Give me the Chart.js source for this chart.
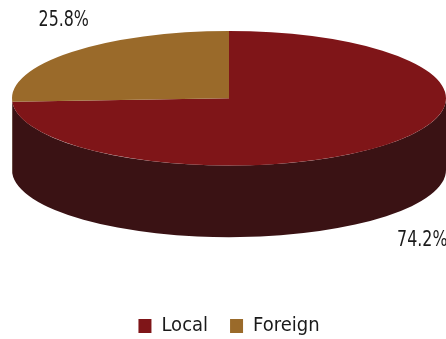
<!DOCTYPE html>
<html>
<head>
<meta charset="utf-8">
<script src="https://cdn.jsdelivr.net/npm/chart.js@4.4.1/dist/chart.umd.min.js"></script>
<style>
  html, body { margin: 0; padding: 0; background: #ffffff; }
  #wrap { width: 446px; height: 339px; }
</style>
</head>
<body>
<div id="wrap"><canvas id="shareChart"></canvas></div>
<script>
// Share of local vs foreign, drawn as a tilted 3D pie
const categories = ['Local', 'Foreign'];
const shareValues = [74.2, 25.8];
const valueLabels = ['74.2%', '25.8%'];

const topColors = ['#7f1518', '#9a6a2a'];
const sideColors = ['#3a1214', '#4c3416'];
const FONT = "'DejaVu Sans', sans-serif";

// ellipse geometry derived from the chart area
function pieGeometry(chart) {
    const area = chart.chartArea;
    const rx = (area.right - area.left) / 2;
    const ry = rx * 0.31;
    return {
        cx: (area.left + area.right) / 2,
        cy: area.top + ry,
        rx: rx,
        ry: ry,
        depth: rx * 0.33
    };
}

const pie3d = {
    id: 'pie3d',
    beforeDatasetsDraw(chart) {
        const ctx = chart.ctx;
        const meta = chart.getDatasetMeta(0);
        const g = pieGeometry(chart);

        // side walls: only the front half (0..PI) is visible
        meta.data.forEach((arc, i) => {
            let a0 = Math.max(arc.startAngle, 0);
            let a1 = Math.min(arc.endAngle, Math.PI);
            if (a1 <= a0) return;
            ctx.save();
            ctx.fillStyle = sideColors[i];
            ctx.beginPath();
            ctx.ellipse(g.cx, g.cy, g.rx, g.ry, 0, a0, a1);
            ctx.ellipse(g.cx, g.cy + g.depth, g.rx, g.ry, 0, a1, a0, true);
            ctx.closePath();
            ctx.fill();
            ctx.restore();
        });

        // squash the top face into the ellipse
        const arc = meta.data[0];
        const r = arc.outerRadius;
        ctx.save();
        ctx.translate(g.cx, g.cy);
        ctx.scale(g.rx / r, g.ry / r);
        ctx.translate(-arc.x, -arc.y);
    },
    afterDatasetsDraw(chart) {
        chart.ctx.restore();
    },
    afterDraw(chart) {
        const ctx = chart.ctx;
        const meta = chart.getDatasetMeta(0);
        const g = pieGeometry(chart);
        meta.data.forEach((arc, i) => {
            const mid = (arc.startAngle + arc.endAngle) / 2;
            const s = Math.sin(mid);
            const x = g.cx + g.rx * 1.14 * Math.cos(mid) + 14;
            const y = g.cy + g.ry * 1.6 * s + (s > 0 ? g.depth : 0) - 4;
            // narrow percentage labels
            ctx.save();
            ctx.translate(x, y);
            ctx.scale(0.84, 1);
            ctx.font = 'condensed 21px ' + FONT;
            ctx.fillStyle = '#1a1a1a';
            ctx.textAlign = 'center';
            ctx.textBaseline = 'middle';
            ctx.fillText(valueLabels[i], 0, 0);
            ctx.restore();
        });
    }
};

new Chart(document.getElementById('shareChart'), {
    type: 'pie',
    data: {
        labels: categories,
        datasets: [{
            data: shareValues,
            backgroundColor: topColors,
            borderWidth: 0
        }]
    },
    options: {
        responsive: true,
        maintainAspectRatio: false,
        animation: false,
        events: [],
        layout: {
            padding: { left: 12, right: 0, top: 31, bottom: -7 }
        },
        plugins: {
            legend: {
                position: 'bottom',
                labels: {
                    font: { family: FONT, size: 20, weight: 'condensed' },
                    color: '#1a1a1a',
                    boxWidth: 13,
                    boxHeight: 14,
                    padding: 22
                }
            },
            tooltip: { enabled: false }
        }
    },
    plugins: [pie3d]
});
</script>
</body>
</html>
